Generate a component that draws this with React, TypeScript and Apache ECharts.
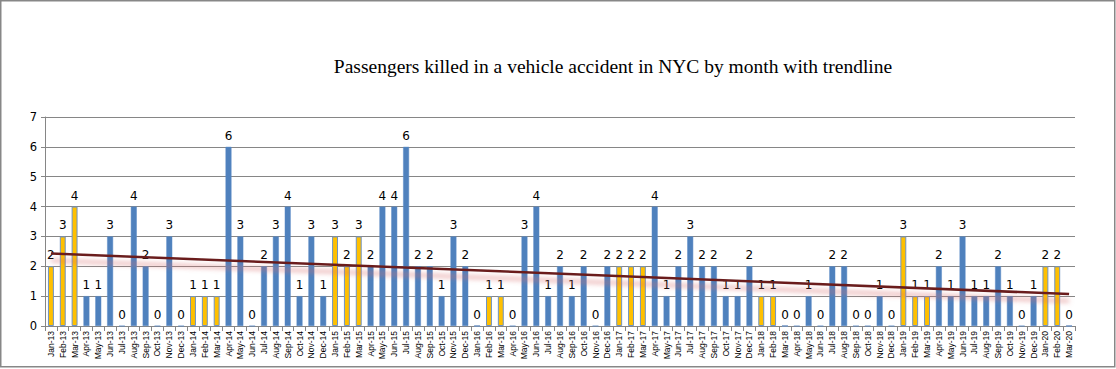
import React, { useEffect, useRef } from "react";
import * as echarts from "echarts";

const MONTHS = ["Jan", "Feb", "Mar", "Apr", "May", "Jun", "Jul", "Aug", "Sep", "Oct", "Nov", "Dec"];
const YEARS = ["13", "14", "15", "16", "17", "18", "19", "20"];

const killed2013 = [2, 3, 4, 1, 1, 3, 0, 4, 2, 0, 3, 0];
const killed2014 = [1, 1, 1, 6, 3, 0, 2, 3, 4, 1, 3, 1];
const killed2015 = [3, 2, 3, 2, 4, 4, 6, 2, 2, 1, 3, 2];
const killed2016 = [0, 1, 1, 0, 3, 4, 1, 2, 1, 2, 0, 2];
const killed2017 = [2, 2, 2, 4, 1, 2, 3, 2, 2, 1, 1, 2];
const killed2018 = [1, 1, 0, 0, 1, 0, 2, 2, 0, 0, 1, 0];
const killed2019 = [3, 1, 1, 2, 1, 3, 1, 1, 2, 1, 0, 1];
const killed2020 = [2, 2, 0];

const values = [
  ...killed2013, ...killed2014, ...killed2015, ...killed2016,
  ...killed2017, ...killed2018, ...killed2019, ...killed2020,
];

const categories: string[] = [];
YEARS.forEach((y) => {
  MONTHS.forEach((m) => {
    if (categories.length < values.length) categories.push(`${m}-${y}`);
  });
});

// Months drawn in yellow (first quarter of each year)
const highlightMonths = ["Jan", "Feb", "Mar"];

// Trendline end points
const trendStart = 2.43;
const trendEnd = 1.07;

const BLUE = "#4F81BD";
const YELLOW = "#FFC000";

export default function App() {
  const ref = useRef<HTMLDivElement>(null);
  useEffect(() => {
    if (!ref.current) return;
    const chart = echarts.init(ref.current, null, { renderer: "svg" });
    const barData = values.map((v, i) => {
      const hl = highlightMonths.includes(categories[i].slice(0, 3));
      return {
        value: v,
        itemStyle: hl
          ? { color: YELLOW, borderColor: "#6F93C4", borderWidth: 1 }
          : { color: BLUE, borderColor: "#5A8AC6", borderWidth: 0.5 },
      };
    });
    chart.setOption({
      animation: false,
      backgroundColor: "#ffffff",
      title: {
        text: "Passengers killed in a vehicle accident in NYC by month with trendline",
        left: 608,
        textAlign: "center",
        top: 51,
        textStyle: {
          fontFamily: "Liberation Serif",
          fontSize: 19.5,
          fontWeight: "normal",
          color: "#000",
        },
      },
      graphic: [
        {
          type: "rect",
          shape: { x: 0.75, y: 0.75, width: 1114, height: 366 },
          style: { fill: "none", stroke: "#878787", lineWidth: 1.5 },
          silent: true,
        },
      ],
      grid: { left: 45, right: 41, top: 117, bottom: 43 },
      xAxis: {
        type: "category",
        data: categories,
        axisLine: { lineStyle: { color: "#868686", width: 1 } },
        axisTick: { show: true, interval: 0, length: 5, lineStyle: { color: "#868686" } },
        axisLabel: {
          interval: 0,
          rotate: 90,
          fontSize: 8.5,
          fontFamily: "Liberation Sans",
          color: "#000",
          margin: 5,
        },
      },
      yAxis: {
        type: "value",
        min: 0,
        max: 7,
        interval: 1,
        axisLine: { show: true, lineStyle: { color: "#868686", width: 1 } },
        axisTick: { show: true, length: 4, lineStyle: { color: "#868686" } },
        splitLine: { lineStyle: { color: "#868686", width: 1 } },
        axisLabel: {
          fontSize: 11.5,
          fontFamily: "DejaVu Sans",
          color: "#000",
          margin: 8,
        },
      },
      series: [
        {
          type: "bar",
          data: barData,
          barWidth: "50%",
          label: {
            show: true,
            position: "top",
            distance: 5,
            fontSize: 12,
            fontFamily: "DejaVu Sans",
            color: "#000",
          },
          z: 2,
        },
        {
          type: "line",
          data: [
            [0, trendStart],
            [values.length - 1, trendEnd],
          ],
          symbol: "none",
          lineStyle: {
            color: "#6A1F1F",
            width: 2.5,
            shadowColor: "rgba(215,110,110,0.7)",
            shadowBlur: 5,
            shadowOffsetY: 7,
          },
          z: 5,
          silent: true,
        },
      ],
    });
    return () => chart.dispose();
  }, []);
  return (
    <div
      ref={ref}
      style={{ position: "fixed", left: 0, top: 0, width: 1116, height: 369 }}
    />
  );
}
